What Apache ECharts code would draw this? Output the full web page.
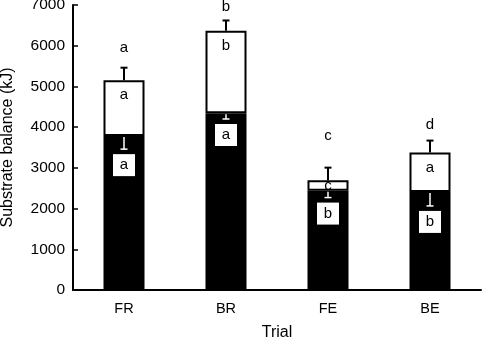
<!DOCTYPE html>
<html>
<head>
<meta charset="utf-8">
<script src="https://cdn.jsdelivr.net/npm/echarts@6/dist/echarts.min.js"></script>
<style>
  html, body { margin: 0; padding: 0; background: #fff; }
  #chart { width: 482px; height: 339px; }
</style>
</head>
<body>
<div id="chart"></div>
<script>
// values (kJ)
const trials = ['FR', 'BR', 'FE', 'BE'];
const blackPart = [3780, 4340, 2440, 2410];
const totals = [5150, 6370, 2695, 3380];
const totalErr = [310, 250, 310, 290];
const blackErr = [320, 140, 170, 345];
const topLetters = ['a', 'b', 'c', 'd'];
const topLetterAt = [5950, 6950, 3790, 4050];
const whiteLetters = ['a', 'b', 'c', 'a'];
const blackLetters = ['a', 'a', 'b', 'b'];

const whitePart = totals.map((t, i) => t - blackPart[i]);
const font = 'Liberation Sans, Arial, Helvetica, sans-serif';

const chart = echarts.init(document.getElementById('chart'));

function renderExtras(params, api) {
  const i = params.dataIndex;
  const x = api.coord([i, 0])[0];
  const yTot = api.coord([i, totals[i]])[1];
  const yTotErr = api.coord([i, totals[i] + totalErr[i]])[1];
  const yBlk = api.coord([i, blackPart[i]])[1];
  const yBlkErr = api.coord([i, blackPart[i] - blackErr[i]])[1];
  const yTop = api.coord([i, topLetterAt[i]])[1];
  const cap = 3.5;
  const boxTop = yBlkErr + 5;
  const letterStyle = (text, px, py) => ({
    type: 'text',
    style: { text, x: px, y: py, fill: '#000', font: '15px ' + font, align: 'center', verticalAlign: 'middle' }
  });
  return {
    type: 'group',
    children: [
      { type: 'line', shape: { x1: x, y1: yTot, x2: x, y2: yTotErr }, style: { stroke: '#000', lineWidth: 2 } },
      { type: 'line', shape: { x1: x - cap, y1: yTotErr, x2: x + cap, y2: yTotErr }, style: { stroke: '#000', lineWidth: 2 } },
      { type: 'line', shape: { x1: x, y1: yBlk + 1, x2: x, y2: yBlkErr }, style: { stroke: '#fff', lineWidth: 1.5 } },
      { type: 'line', shape: { x1: x - cap, y1: yBlkErr, x2: x + cap, y2: yBlkErr }, style: { stroke: '#fff', lineWidth: 1.5 } },
      letterStyle(topLetters[i], x, yTop),
      letterStyle(whiteLetters[i], x, yTot + Math.min(15, (yBlk - yTot) / 2)),
      { type: 'rect', shape: { x: x - 11, y: boxTop, width: 22, height: 22 }, style: { fill: '#fff' } },
      letterStyle(blackLetters[i], x, boxTop + 11)
    ]
  };
}

const option = {
  animation: false,
  backgroundColor: '#fff',
  textStyle: { fontFamily: font, color: '#000' },
  grid: { left: 73, right: 1, top: 5, bottom: 49, outerBoundsMode: 'none', containLabel: false },
  xAxis: {
    type: 'category',
    data: trials,
    name: 'Trial',
    nameLocation: 'middle',
    nameGap: 35,
    nameTextStyle: { fontSize: 16, color: '#000', fontFamily: font },
    axisLine: { lineStyle: { color: '#000', width: 2 } },
    axisTick: { show: false },
    axisLabel: { fontSize: 14.5, color: '#000', margin: 11, fontFamily: font }
  },
  yAxis: {
    type: 'value',
    min: 0,
    max: 7000,
    interval: 1000,
    name: 'Substrate balance (kJ)',
    nameLocation: 'middle',
    nameGap: 57,
    nameTextStyle: { fontSize: 16, color: '#000', fontFamily: font },
    axisLine: { show: true, lineStyle: { color: '#000', width: 2 } },
    axisTick: { show: true, inside: true, length: 5, lineStyle: { color: '#000', width: 1.5 } },
    splitLine: { show: false },
    axisLabel: { fontSize: 15.5, color: '#000', margin: 8, fontFamily: font, formatter: v => String(v) }
  },
  series: [
    {
      type: 'bar',
      stack: 'sub',
      barWidth: 41,
      data: blackPart,
      z: 3,
      itemStyle: { color: '#000' }
    },
    {
      type: 'bar',
      stack: 'sub',
      barWidth: 41,
      data: whitePart,
      z: 2,
      itemStyle: { color: '#fff', borderColor: '#000', borderWidth: 2 }
    },
    {
      type: 'custom',
      renderItem: renderExtras,
      data: totals.map((t, i) => [i, t]),
      encode: { x: 0, y: 1 },
      z: 5
    }
  ]
};

chart.setOption(option);
</script>
</body>
</html>
